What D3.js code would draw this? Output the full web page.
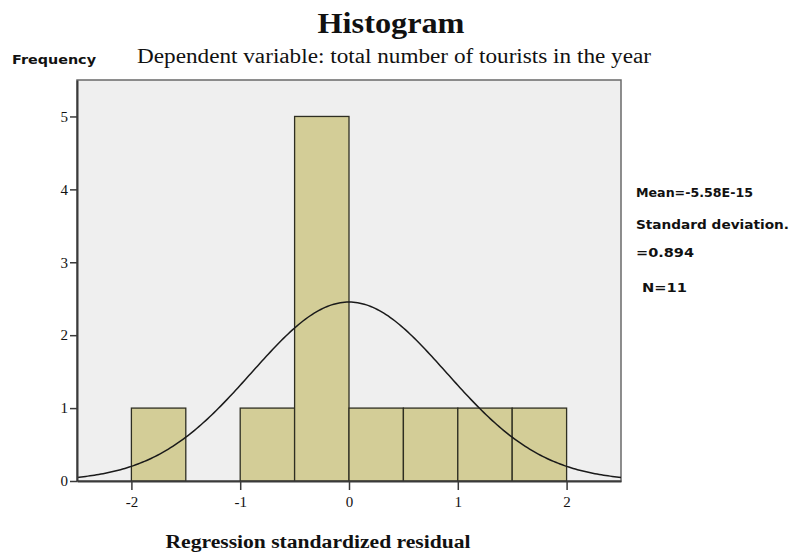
<!DOCTYPE html>
<html>
<head>
<meta charset="utf-8">
<script src="https://cdn.jsdelivr.net/npm/d3@7"></script>
<style>
  body { margin: 0; background: #fff; }
  svg text { fill: #111; }
</style>
</head>
<body>
<svg id="hist"></svg>
<script>
const binStarts = [-2, -1.5, -1, -0.5, 0, 0.5, 1, 1.5];
const binCounts = [1, 0, 1, 5, 1, 1, 1, 1];
const binWidth = 0.5;
const xTicks = [-2, -1, 0, 1, 2];
const yTicks = [0, 1, 2, 3, 4, 5];
const statMean = -5.58e-15;
const statSd = 0.894;
const statN = 11;
const statLines = ["Mean=-5.58E-15", "Standard deviation.", "=0.894", "N=11"];

const size = { width: 797, height: 559 };
const margin = { top: 80, right: 176, bottom: 78, left: 77 };

const svg = d3.select("#hist").attr("width", size.width).attr("height", size.height);

const x = d3.scaleLinear().domain([-2.5, 2.5]).range([margin.left, size.width - margin.right]);
const y = d3.scaleLinear().domain([0, 5.5]).range([size.height - margin.bottom, margin.top]);

// plot background
svg.append("rect")
  .attr("x", x(-2.5)).attr("y", y(5.5))
  .attr("width", x(2.5) - x(-2.5)).attr("height", y(0) - y(5.5))
  .attr("fill", "#efefef")
  .attr("stroke", "#6a6a6a")
  .attr("stroke-width", 1.5);

// bars
svg.append("g")
  .selectAll("rect")
  .data(binStarts.map((s, i) => ({ s, c: binCounts[i] })).filter((d) => d.c > 0))
  .enter()
  .append("rect")
  .attr("x", (d) => x(d.s))
  .attr("y", (d) => y(d.c))
  .attr("width", (d) => x(d.s + binWidth) - x(d.s))
  .attr("height", (d) => y(0) - y(d.c))
  .attr("fill", "#d3cd97")
  .attr("stroke", "#2e2e22")
  .attr("stroke-width", 1.3);

// fitted normal curve from the reported mean / sd / N
const pts = d3.range(-2.5, 2.5001, 0.02);
const dens = (v) => statN * binWidth / (statSd * Math.sqrt(2 * Math.PI)) *
  Math.exp(-0.5 * Math.pow((v - statMean) / statSd, 2));
svg.append("path")
  .datum(pts)
  .attr("fill", "none")
  .attr("stroke", "#1a1a1a")
  .attr("stroke-width", 1.5)
  .attr("d", d3.line().x((d) => x(d)).y((d) => y(dens(d))));

// axes
const xAxis = svg.append("g")
  .attr("transform", `translate(0, ${y(0)})`)
  .call(d3.axisBottom(x).tickValues(xTicks).tickSize(9).tickSizeOuter(0)
    .tickFormat((d) => String(d)));
const yAxis = svg.append("g")
  .attr("transform", `translate(${x(-2.5)}, 0)`)
  .call(d3.axisLeft(y).tickValues(yTicks).tickSize(7).tickSizeOuter(0)
    .tickFormat((d) => String(d)));

[xAxis, yAxis].forEach((a) => {
  a.select(".domain").attr("stroke", "#3a3a3a").attr("stroke-width", 2);
  a.selectAll(".tick line").attr("stroke", "#3a3a3a").attr("stroke-width", 1.5);
  a.selectAll(".tick text")
    .style("font-family", "Liberation Serif, serif")
    .style("font-size", "15px")
    .attr("fill", "#333");
});
xAxis.selectAll(".tick text").attr("dy", "0.95em");
yAxis.selectAll(".tick text").attr("x", -9);

// titles
svg.append("text")
  .text("Histogram")
  .attr("x", 391).attr("y", 33)
  .attr("text-anchor", "middle")
  .attr("textLength", 147)
  .attr("lengthAdjust", "spacingAndGlyphs")
  .style("font-family", "Liberation Serif, serif")
  .style("font-weight", "bold")
  .style("font-size", "30px");

svg.append("text")
  .text("Dependent variable: total number of tourists in the year")
  .attr("x", 394).attr("y", 63)
  .attr("text-anchor", "middle")
  .attr("textLength", 514)
  .attr("lengthAdjust", "spacingAndGlyphs")
  .style("font-family", "Liberation Serif, serif")
  .style("font-size", "20px");

svg.append("text")
  .text("Frequency")
  .attr("x", 12).attr("y", 64)
  .attr("textLength", 84)
  .attr("lengthAdjust", "spacingAndGlyphs")
  .style("font-family", "DejaVu Sans, sans-serif")
  .style("font-weight", "bold")
  .style("font-size", "12px");

svg.append("text")
  .text("Regression standardized residual")
  .attr("x", 318).attr("y", 548)
  .attr("text-anchor", "middle")
  .attr("textLength", 305)
  .attr("lengthAdjust", "spacingAndGlyphs")
  .style("font-family", "Liberation Serif, serif")
  .style("font-weight", "bold")
  .style("font-size", "18px");

// stats legend
const statY = [197, 229, 257, 292];
const statX = [636, 636, 636, 642];
const statW = [117, 153, 58, 45];
statLines.forEach((t, i) => {
  svg.append("text")
    .text(t)
    .attr("x", statX[i]).attr("y", statY[i])
    .attr("textLength", statW[i])
    .attr("lengthAdjust", "spacingAndGlyphs")
    .style("font-family", "DejaVu Sans, sans-serif")
    .style("font-weight", "bold")
    .style("font-size", "12px");
});
</script>
</body>
</html>
